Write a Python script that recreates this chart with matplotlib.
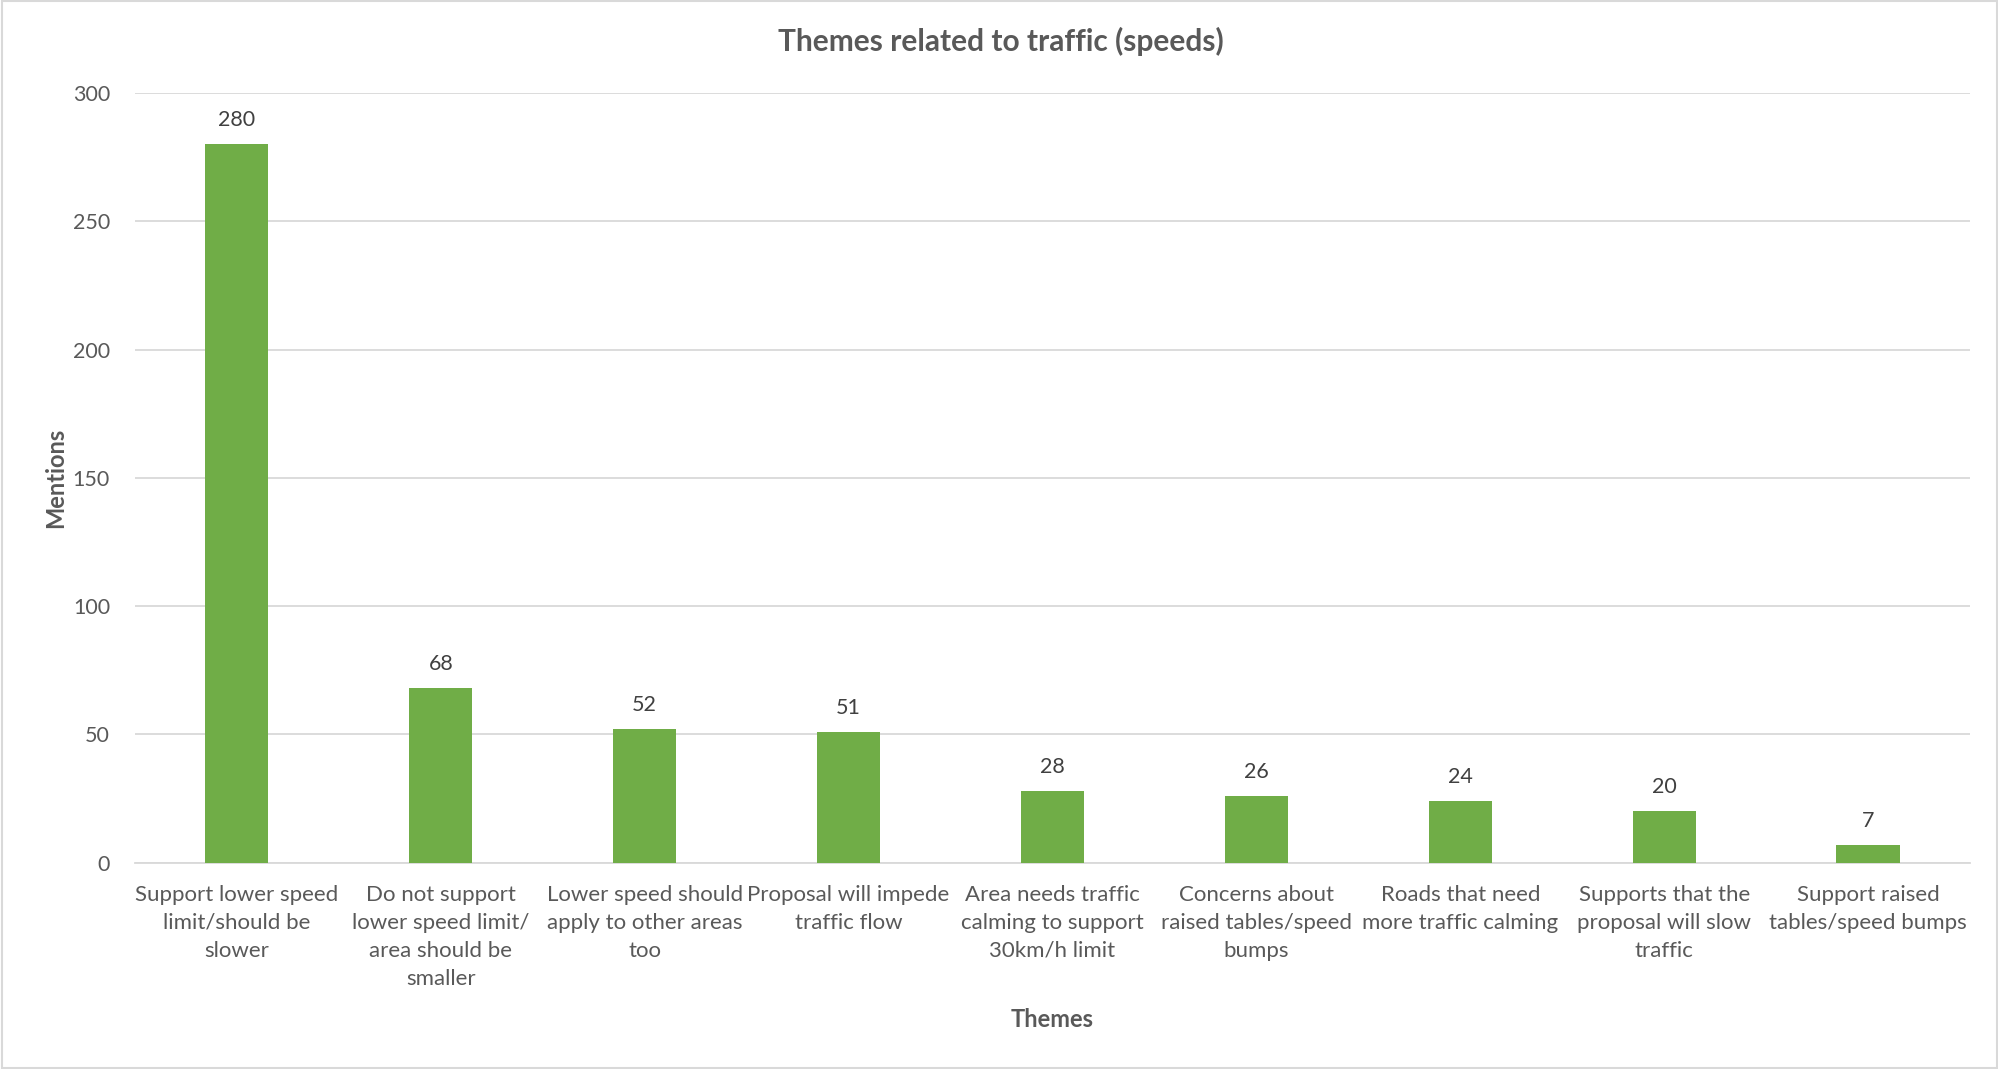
import matplotlib.pyplot as plt
from matplotlib.patches import Rectangle

# Donnees du graphique
themes = [
    "Support lower speed\nlimit/should be\nslower",
    "Do not support\nlower speed limit/\narea should be\nsmaller",
    "Lower speed should\napply to other areas\ntoo",
    "Proposal will impede\ntraffic flow",
    "Area needs traffic\ncalming to support\n30km/h limit",
    "Concerns about\nraised tables/speed\nbumps",
    "Roads that need\nmore traffic calming",
    "Supports that the\nproposal will slow\ntraffic",
    "Support raised\ntables/speed bumps",
]
mentions = [280, 68, 52, 51, 28, 26, 24, 20, 7]
yticks = [0, 50, 100, 150, 200, 250, 300]

gris = "#595959"
vert = "#70AD47"
grille = "#D9D9D9"

plt.rcParams['font.family'] = ['Lato', 'DejaVu Sans']

fig = plt.figure(figsize=(19.99, 10.69), dpi=100)
ax = fig.add_axes([0.0675, 0.193, 0.918, 0.72])

x = range(len(mentions))
barres = ax.bar(x, mentions, width=0.31, color=vert, zorder=3)
ax.bar_label(barres, padding=10, fontsize=15.5, color="#404040")

ax.set_xlim(-0.5, len(mentions) - 0.5)
ax.set_ylim(0, 300)
ax.set_yticks(yticks)
ax.tick_params(axis='y', length=0, labelsize=15.5, labelcolor=gris, pad=18)
ax.set_xticks(list(x))
ax.set_xticklabels(themes, fontsize=16, color=gris, linespacing=1.5)
ax.tick_params(axis='x', length=0, pad=16)
ax.grid(axis='y', color=grille, linewidth=1.3, zorder=0)

for s in ['top', 'right', 'left']:
    ax.spines[s].set_visible(False)
ax.spines['bottom'].set_color(grille)
ax.spines['bottom'].set_linewidth(1.3)

ax.set_ylabel("Mentions", fontsize=17, fontweight='bold', color=gris, labelpad=4)
ax.set_xlabel("Themes", fontsize=17, fontweight='bold', color=gris, labelpad=14)
fig.text(0.5005, 0.961, "Themes related to traffic (speeds)", ha='center', va='center',
         fontsize=21.5, fontweight='bold', color=gris)

# Cadre autour du graphique
fig.patches.append(Rectangle((0.001, 0.001), 0.998, 0.998, transform=fig.transFigure,
                             fill=False, edgecolor=grille, linewidth=1.5))

fig.savefig("out.png", dpi=100)
